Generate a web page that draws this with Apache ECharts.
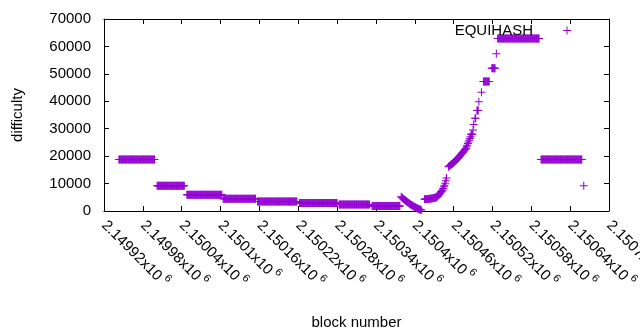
<!DOCTYPE html>
<html><head><meta charset="utf-8">
<script src="https://cdn.jsdelivr.net/npm/echarts@6/dist/echarts.min.js"></script>
<style>html,body{margin:0;padding:0;background:#fff}#c{width:640px;height:330px}</style>
</head><body><div id="c"></div>
<script>
// x tick labels (mantissa, shown as "<m>x10^6")
const xTickMantissa = ['2.14992','2.14998','2.15004','2.1501','2.15016','2.15022','2.15028','2.15034','2.1504','2.15046','2.15052','2.15058','2.15064','2.1507'];
const xTickExponent = '6';
const yTickLabels = ['0','10000','20000','30000','40000','50000','60000','70000'];
const seriesName = 'EQUIHASH';

// constant-difficulty runs: first block, last block, difficulty
const runStart = [2149943, 2150002, 2150048, 2150104, 2150157, 2150222, 2150283, 2150334, 2150487, 2150493, 2150496, 2150506, 2150519, 2150528, 2150595];
const runEnd   = [2149998, 2150044, 2150102, 2150154, 2150218, 2150280, 2150330, 2150377, 2150489, 2150494, 2150498, 2150515, 2150524, 2150592, 2150658];
const runValue = [18800,   9250,    5950,    4450,    3450,    2930,    2340,    1830,    28000,   33800,   36600,   47200,   52000,   62900,   18800];

// difficulty dip, one value per block starting at dipStart
const dipStart = 2150379;
const dipValues = [5200,5000,4750,4500,4280,4080,3900,3720,3540,3360,3180,3000,2830,2660,2490,2320,2150,2010,1870,1730,1590,1450,1330,1210,1090,970,850,760,670,580,490,400];

// lower recovery, one value per block starting at riseStart
const riseStart = 2150415;
const riseValues = [4300,4320,4340,4360,4380,4400,4420,4450,4480,4510,4540,4580,4620,4660,4710,4760,4820,4880,4950,5030,
                    5300,5550,5850,6150,6450,6800,7100,7400,7700,8200,8800,9400,10100,11000,12000];

// upper climb, one value per block starting at climbStart
const climbStart = 2150452;
const climbValues = [16100,16300,16500,16700,16900,17100,17250,17400,17650,17900,18150,18400,18650,18900,19100,19350,19600,19850,
                     20150,20450,20750,21050,21300,21600,21900,22200,22500,22800,23400,24000,24600,25200,25800,26400,27100];

// isolated points
const singleBlocks = [2150490, 2150491, 2150499, 2150503, 2150526, 2150661];
const singleValues = [29500,   31500,   39800,   43300,   57300,   9250];

const points = [];
runStart.forEach((s, i) => { for (let b = s; b <= runEnd[i]; b++) points.push([b, runValue[i]]); });
dipValues.forEach((v, i) => points.push([dipStart + i, v]));
riseValues.forEach((v, i) => points.push([riseStart + i, v]));
climbValues.forEach((v, i) => points.push([climbStart + i, v]));
singleBlocks.forEach((b, i) => points.push([b, singleValues[i]]));

const FONT = '"Liberation Sans", Arial, sans-serif';
const xMin = 2149920, xMax = 2150700, xStep = 60;
const cross = 'path://M0,3.5H8V4.5H0ZM3.5,0H4.5V8H3.5Z';
function axisCommon() {
  return {
    show: true,
    axisLine: { show: true, onZero: false, lineStyle: { color: '#000', width: 1 } },
    axisTick: { show: true, inside: true, length: 5, lineStyle: { color: '#000', width: 1 } },
    splitLine: { show: false }
  };
}

const chart = echarts.init(document.getElementById('c'), null, { renderer: 'canvas' });
chart.setOption({
  animation: false,
  grid: { left: 104, right: 31, top: 19, bottom: 119, containLabel: false, outerBoundsMode: 'none' },
  legend: {
    data: [seriesName], right: 69, top: 23, padding: 0, align: 'right',
    itemWidth: 8, itemHeight: 8, icon: cross,
    textStyle: { fontFamily: FONT, fontSize: 15, color: '#000', padding: [0, 25, 0, 0] }
  },
  xAxis: [
    Object.assign(axisCommon(), {
      type: 'value', gridIndex: 0, min: xMin, max: xMax, interval: xStep, position: 'bottom',
      name: 'block number', nameLocation: 'middle', nameGap: 104,
      nameTextStyle: { fontFamily: FONT, fontSize: 15, color: '#000' },
      axisLabel: {
        rotate: -45, margin: 12, showMinLabel: true, showMaxLabel: true, hideOverlap: false,
        formatter: (v) => {
          const i = Math.round((v - xMin) / xStep);
          return '{m|' + xTickMantissa[i] + 'x10}{s| ' + xTickExponent + '}';
        },
        rich: {
          m: { fontFamily: FONT, fontSize: 15, color: '#000' },
          s: { fontFamily: FONT, fontSize: 11, color: '#000', padding: [0, 0, 12, 0] }
        }
      }
    }),
    Object.assign(axisCommon(), {
      type: 'value', gridIndex: 0, min: xMin, max: xMax, interval: xStep, position: 'top',
      axisLabel: { show: false }
    })
  ],
  yAxis: [
    Object.assign(axisCommon(), {
      type: 'value', gridIndex: 0, min: 0, max: 70000, interval: 10000, position: 'left',
      name: 'difficulty', nameLocation: 'middle', nameGap: 79, nameRotate: 90,
      nameTextStyle: { fontFamily: FONT, fontSize: 15, color: '#000' },
      axisLabel: {
        margin: 13, fontFamily: FONT, fontSize: 15, color: '#000',
        formatter: (v) => yTickLabels[Math.round(v / 10000)]
      }
    }),
    Object.assign(axisCommon(), {
      type: 'value', gridIndex: 0, min: 0, max: 70000, interval: 10000, position: 'right',
      axisLabel: { show: false }
    })
  ],
  series: [{
    name: seriesName, type: 'scatter', xAxisIndex: 0, yAxisIndex: 0,
    symbol: cross, symbolSize: 8,
    itemStyle: { color: '#9400D3', opacity: 1 },
    emphasis: { disabled: true },
    data: points
  }]
});
</script>
</body></html>
